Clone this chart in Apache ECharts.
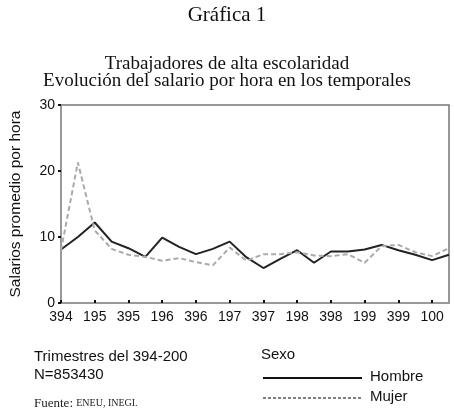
<!DOCTYPE html>
<html><head><meta charset="utf-8">
<script src="https://cdn.jsdelivr.net/npm/echarts@6/dist/echarts.min.js"></script>
<style>html,body{margin:0;padding:0;background:#fff}#c{width:454px;height:411px}</style>
</head><body><div id="c"></div>
<script>
const categories = ['394','494','195','295','395','495','196','296','396','496','197','297','397','497','198','298','398','498','199','299','399','499','100','200'];
const hombre = [8.1, 10.0, 12.2, 9.3, 8.3, 7.0, 9.9, 8.5, 7.4, 8.2, 9.3, 6.9, 5.3, 6.7, 8.0, 6.1, 7.8, 7.8, 8.1, 8.8, 8.0, 7.3, 6.5, 7.3];
const mujer = [8.0, 21.3, 11.0, 8.2, 7.3, 7.0, 6.4, 6.8, 6.2, 5.7, 8.4, 6.4, 7.4, 7.4, 7.7, 7.2, 7.1, 7.4, 6.1, 8.6, 8.8, 7.7, 7.1, 8.3];
const yTicks = [0, 10, 20, 30];

const chart = echarts.init(document.getElementById('c'), null, {renderer: 'canvas'});
const sans = 'Liberation Sans';
const serif = 'Liberation Serif';
chart.setOption({
  animation: false,
  backgroundColor: '#fff',
  title: [
    {text: 'Gráfica 1', left: 'center', top: 0, textStyle: {fontFamily: serif, fontSize: 21, fontWeight: 'normal', color: '#111'}},
    {text: 'Trabajadores de alta escolaridad\nEvolución del salario por hora en los temporales', left: 'center', top: 51,
     textStyle: {fontFamily: serif, fontSize: 19, fontWeight: 'normal', color: '#111', lineHeight: 17}}
  ],
  grid: {left: 53, right: 5, top: 105, bottom: 108, show: true, borderColor: '#777', borderWidth: 1.5},
  xAxis: {
    type: 'category', data: categories, boundaryGap: false,
    axisLine: {lineStyle: {color: '#999', width: 2}},
    axisTick: {show: true, interval: 1, length: -3, lineStyle: {color: '#111', width: 2}},
    axisLabel: {interval: 1, fontFamily: sans, fontSize: 14, color: '#111', margin: 7},
    splitLine: {show: false}
  },
  yAxis: {
    type: 'value', min: yTicks[0], max: yTicks[yTicks.length - 1], interval: 10,
    name: 'Salarios promedio por hora', nameLocation: 'middle', nameGap: 37, nameRotate: 90,
    nameTextStyle: {fontFamily: sans, fontSize: 15.5, color: '#111'},
    axisLine: {show: true, lineStyle: {color: '#999', width: 2}},
    axisTick: {show: true, length: 3, lineStyle: {color: '#111', width: 2}},
    axisLabel: {fontFamily: sans, fontSize: 14, color: '#111', margin: 6},
    splitLine: {show: false}
  },
  series: [
    {name: 'Hombre', type: 'line', data: hombre, symbol: 'none', lineStyle: {color: '#222', width: 2}},
    {name: 'Mujer', type: 'line', data: mujer, symbol: 'none', lineStyle: {color: '#aaa', width: 2, type: [5, 3]}}
  ],
  graphic: [
    {type: 'text', left: 34, top: 348, style: {text: 'Trimestres del 394-200\nN=853430', font: '15px "Liberation Sans"', fill: '#111', lineHeight: 18}},
    {type: 'text', left: 34, top: 397, style: {text: '{a|Fuente: }{b|ENEU, INEGI.}', rich: {a: {fontFamily: serif, fontSize: 13, fill: '#222'}, b: {fontFamily: serif, fontSize: 10, fill: '#222'}}}},
    {type: 'text', left: 261, top: 347, style: {text: 'Sexo', font: '15px "Liberation Sans"', fill: '#111'}},
    {type: 'line', shape: {x1: 263, y1: 378, x2: 362, y2: 378}, style: {stroke: '#111', lineWidth: 2}},
    {type: 'line', shape: {x1: 263, y1: 398, x2: 362, y2: 398}, style: {stroke: '#555', lineWidth: 1.5, lineDash: [3, 2]}},
    {type: 'text', left: 370, top: 369, style: {text: 'Hombre', font: '15px "Liberation Sans"', fill: '#111'}},
    {type: 'text', left: 370, top: 389, style: {text: 'Mujer', font: '15px "Liberation Sans"', fill: '#111'}}
  ]
});
</script></body></html>
